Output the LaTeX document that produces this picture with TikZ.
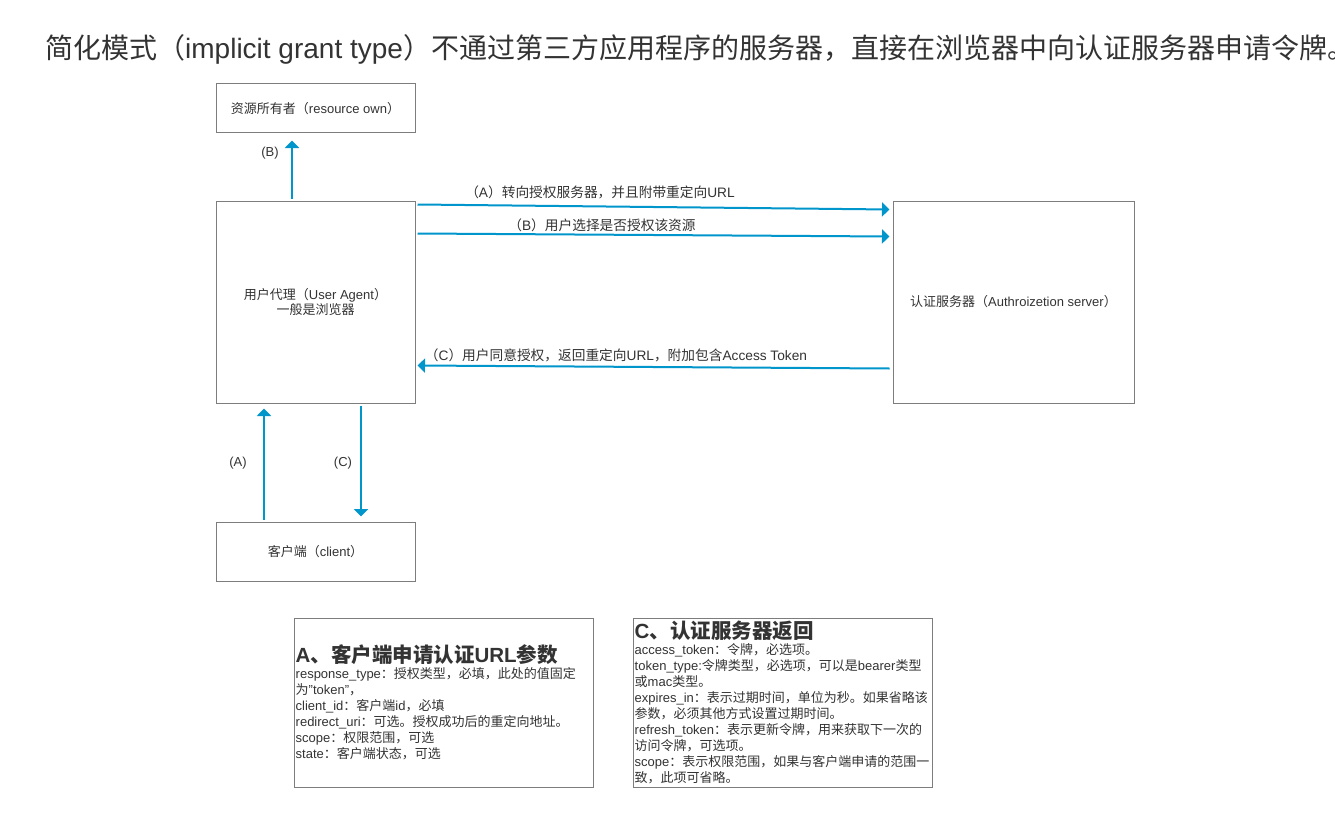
\documentclass[tikz,border=0pt]{standalone}
\usepackage{fontspec}
\usepackage{tikz}
\usetikzlibrary{arrows.meta, calc, positioning}
\setmainfont{Liberation Sans}
\newfontfamily\cjk{Noto Sans CJK SC}
\definecolor{boxgray}{RGB}{125,125,125}
\definecolor{flowblue}{RGB}{0,150,204}
\definecolor{textgray}{RGB}{51,51,51}

% Chinese characters and full-width punctuation go to the CJK font
\XeTeXinterchartokenstate=1
\newXeTeXintercharclass\cjkclass
\makeatletter
\def\setcjkrange#1#2{\count@=#1\relax
  \loop\XeTeXcharclass\count@=\cjkclass\relax
  \advance\count@ by 1\relax\ifnum\count@<#2\relax\repeat}
\setcjkrange{"3000}{"3040}
\setcjkrange{"4E00}{"A000}
\setcjkrange{"FF00}{"FFF0}
\makeatother
\XeTeXinterchartoks 0 \cjkclass = {\cjk}
\XeTeXinterchartoks 4095 \cjkclass = {\cjk}
\XeTeXinterchartoks \cjkclass 0 = {\rmfamily}
\XeTeXinterchartoks \cjkclass 4095 = {\rmfamily}

\begin{document}
\begin{tikzpicture}[x=1pt, y=-1pt,
    box/.style={draw=boxgray, line width=1pt, inner sep=0pt, text=textgray,
        font=\fontsize{13}{15}\selectfont, align=center},
    flow/.style={draw=flowblue, line width=2pt, -{Triangle[length=7.5pt, width=14pt]}},
    lbl/.style={text=textgray, font=\fontsize{13}{15}\selectfont, inner sep=0pt},
    flowlbl/.style={lbl, font=\fontsize{13.7}{15}\selectfont},
    panel/.style={draw=boxgray, line width=1pt, minimum width=299pt,
        minimum height=169pt, inner sep=0pt},
    paneltext/.style={text=textgray, font=\fontsize{13}{16}\selectfont,
        text width=297pt, align=left, inner sep=0pt, anchor=west}]
    \fill[white] (0,0) rectangle (1335,832);
    \useasboundingbox (0,0) rectangle (1335,832);

    \node[text=textgray, font=\fontsize{28}{32}\selectfont, inner sep=0pt, anchor=west] (heading)
        at (45,49) {简化模式（implicit grant type）不通过第三方应用程序的服务器，直接在浏览器中向认证服务器申请令牌。};

    \node[box, minimum width=199pt, minimum height=49pt] (owner) at (315.5,108.5) {资源所有者（resource own）};
    \node[box, minimum width=199pt, minimum height=202pt] (agent) at (315.5,302) {用户代理（User Agent）\\一般是浏览器};
    \node[box, minimum width=241pt, minimum height=202pt] (server) at (1013.5,302) {认证服务器（Authroizetion server）};
    \node[box, minimum width=199pt, minimum height=59pt] (client) at (315.5,551.5) {客户端（client）};

    \draw[flow] ($(agent.north)+(-23.5,-2)$) -- ($(owner.south)+(-23.5,7)$);
    \node[lbl] (lblownerB) at (270,153) {(B)};

    \draw[flow] ($(agent.north east)+(2,4)$) -- ($(server.north west)+(-3,9)$);
    \node[flowlbl] (lblserverA) at (600,192) {（A）转向授权服务器，并且附带重定向URL};
    \draw[flow] ($(agent.north east)+(2,33)$) -- ($(server.north west)+(-3,36)$);
    \node[flowlbl] (lblserverB) at (602,225) {（B）用户选择是否授权该资源};
    \draw[flow] ($(server.north west)+(-3,168)$) -- ($(agent.north east)+(2,165)$);
    \node[flowlbl] (lblserverC) at (616,355) {（C）用户同意授权，返回重定向URL，附加包含Access Token};

    \draw[flow] ($(client.north)+(-51.5,-2)$) -- ($(agent.south)+(-51.5,5)$);
    \node[lbl] (lblclientA) at (238,463) {(A)};
    \draw[flow] ($(agent.south)+(45.5,2)$) -- ($(client.north)+(45.5,-5)$);
    \node[lbl] (lblclientC) at (343,463) {(C)};

    \node[panel] (reqbox) at (443.5,702.5) {};
    \node[paneltext] (reqtext) at ([xshift=2pt]reqbox.west) {{\fontsize{20.5}{16}\selectfont\bfseries A、客户端申请认证URL参数}\\
        response\_type：授权类型，必填，此处的值固定\\
        为"token"，\\
        client\_id：客户端id，必填\\
        redirect\_uri：可选。授权成功后的重定向地址。\\
        scope：权限范围，可选\\
        state：客户端状态，可选};

    \node[panel] (retbox) at (782.5,702.5) {};
    \node[paneltext] (rettext) at ([xshift=2pt]retbox.west) {{\fontsize{20.5}{16}\selectfont\bfseries C、认证服务器返回}\\
        access\_token：令牌，必选项。\\
        token\_type:令牌类型，必选项，可以是bearer类型\\
        或mac类型。\\
        expires\_in：表示过期时间，单位为秒。如果省略该\\
        参数，必须其他方式设置过期时间。\\
        refresh\_token：表示更新令牌，用来获取下一次的\\
        访问令牌，可选项。\\
        scope：表示权限范围，如果与客户端申请的范围一\\
        致，此项可省略。};
\end{tikzpicture}
\end{document}
